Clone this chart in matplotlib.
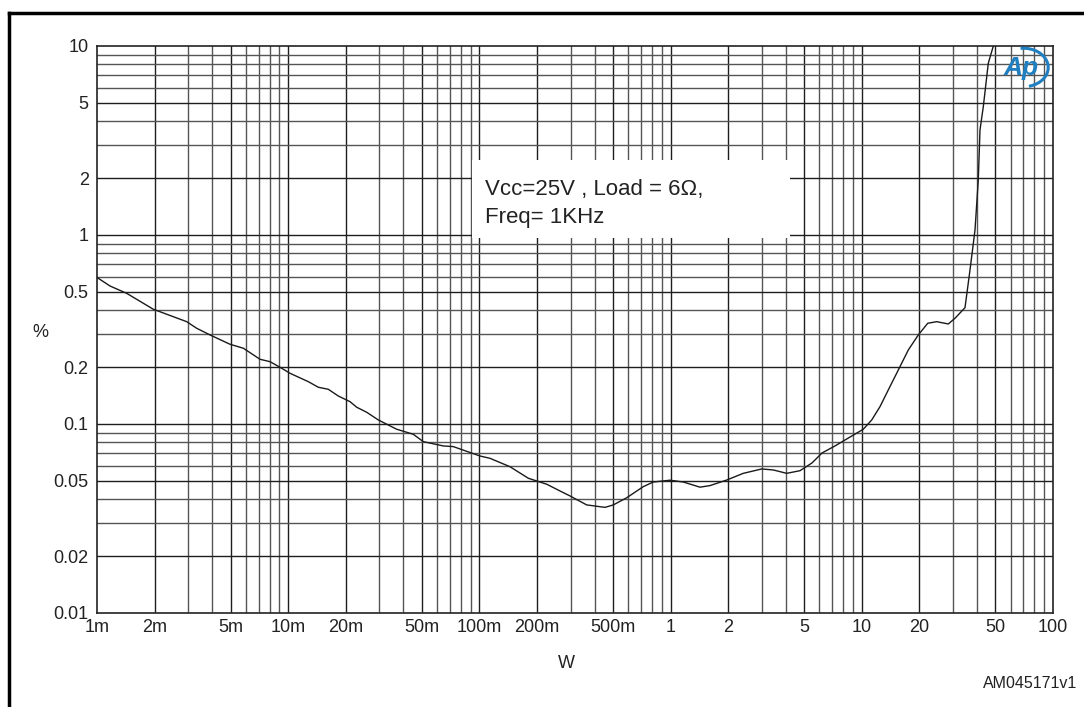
import matplotlib
matplotlib.use("Agg")
import matplotlib.pyplot as plt
from matplotlib.patches import Rectangle, Arc
from matplotlib.lines import Line2D
import numpy as np

plt.rcParams["font.family"] = ["Liberation Sans", "DejaVu Sans"]

# ─── Data ─────────────────────────────────────────────────────────────────────
power_w = [
    1.0e-3, 1.169e-3, 1.43e-3, 1.97e-3, 2.945e-3, 3.32e-3, 3.90e-3, 4.96e-3,
    5.83e-3, 7.12e-3, 8.03e-3, 9.06e-3, 1.022e-2, 1.274e-2, 1.437e-2, 1.62e-2,
    1.828e-2, 2.105e-2, 2.282e-2, 2.574e-2, 2.96e-2, 3.69e-2, 4.51e-2, 5.09e-2,
    6.48e-2, 7.30e-2, 0.1007, 0.1136, 0.1445, 0.1803, 0.2249, 0.2640, 0.2978,
    0.364, 0.4539, 0.5016, 0.5894, 0.7197, 0.8120, 0.9929, 1.165, 1.425, 1.607,
    1.965, 2.400, 2.996, 3.444, 4.048, 4.752, 5.49, 6.19, 7.24, 8.68, 10.18,
    11.27, 12.45, 13.76, 15.52, 17.51, 19.75, 22.12, 24.65, 28.34, 30.72,
    34.65, 36.81, 39.09, 40.67, 41.51, 43.2, 45.87, 48.75,
]
thd_pct = [
    0.596, 0.537, 0.491, 0.4045, 0.3477, 0.3209, 0.2958, 0.2641,
    0.2515, 0.2199, 0.2136, 0.1995, 0.1854, 0.1674, 0.1564, 0.1526,
    0.1406, 0.1312, 0.1226, 0.1153, 0.1050, 0.0938, 0.0882, 0.0806,
    0.0765, 0.0759, 0.0677, 0.0658, 0.0594, 0.0516, 0.0480, 0.0442, 0.0416,
    0.0373, 0.0362, 0.0373, 0.0407, 0.0466, 0.0493, 0.0504, 0.0493, 0.0463, 0.0472,
    0.0505, 0.0548, 0.0578, 0.0571, 0.0548, 0.0566, 0.0622, 0.0702, 0.0765, 0.0853, 0.0938,
    0.1050, 0.1235, 0.1514, 0.1930, 0.2463, 0.2958, 0.3410, 0.3477, 0.3381, 0.3624,
    0.4124, 0.653, 1.063, 1.954, 3.594, 4.773, 8.10, 10.0,
]

x_ticks = [1e-3, 2e-3, 5e-3, 1e-2, 2e-2, 5e-2, 0.1, 0.2, 0.5, 1, 2, 5, 10, 20, 50, 100]
x_labels = ["1m", "2m", "5m", "10m", "20m", "50m", "100m", "200m", "500m",
            "1", "2", "5", "10", "20", "50", "100"]
y_ticks = [0.01, 0.02, 0.05, 0.1, 0.2, 0.5, 1, 2, 5, 10]
y_labels = ["0.01", "0.02", "0.05", "0.1", "0.2", "0.5", "1", "2", "5", "10"]

# ─── Figure ───────────────────────────────────────────────────────────────────
fig = plt.figure(figsize=(10.84, 7.07), dpi=100)
ax = fig.add_axes([0.0895, 0.1330, 0.8819, 0.8020])
ax.set_xscale("log")
ax.set_yscale("log")
ax.set_xlim(1e-3, 100)
ax.set_ylim(0.01, 10)

# grid: every 1..9 per decade
for dec in range(-3, 2):
    for m in range(1, 10):
        v = m * 10.0 ** dec
        if v <= 1e-3 or v >= 100:
            continue
        ax.axvline(v, color="#1e1e1e" if m in (1, 2, 5) else "#555555", lw=1.0, zorder=1)
for dec in range(-2, 1):
    for m in range(1, 10):
        v = m * 10.0 ** dec
        if v <= 0.01 or v >= 10:
            continue
        ax.axhline(v, color="#1e1e1e" if m in (1, 2, 5) else "#555555", lw=1.0, zorder=1)

for s in ax.spines.values():
    s.set_color("#222222")
    s.set_linewidth(1.2)

ax.set_xticks(x_ticks)
ax.set_xticklabels(x_labels)
ax.set_yticks(y_ticks)
ax.set_yticklabels(y_labels)
ax.minorticks_off()
ax.tick_params(length=0, labelsize=13, colors="#222222")
ax.tick_params(axis="x", pad=4)
ax.tick_params(axis="y", pad=6)

ax.plot(power_w, thd_pct, color="#1a1a1a", lw=1.0, zorder=4)

# annotation box
ax.add_patch(Rectangle((0.392, 0.661), 0.333, 0.138, transform=ax.transAxes,
                       facecolor="white", edgecolor="none", zorder=3))
ax.text(0.406, 0.722, "Vcc=25V , Load = 6\u03a9,\nFreq= 1KHz", transform=ax.transAxes,
        ha="left", va="center", fontsize=16, color="#222222", linespacing=1.4, zorder=5)

# Ap logo
ax.text(0.967, 0.962, "Ap", transform=ax.transAxes, ha="center", va="center",
        fontsize=19, fontstyle="italic", fontweight="bold", color="#1f7fc0", zorder=5)
ax.add_patch(Arc((0.969, 0.962), 0.052, 0.068, theta1=-80, theta2=95,
                 transform=ax.transAxes, color="#1f7fc0", lw=2.2, zorder=5))

fig.text(40 / 1084, 1 - 333 / 707, "%", ha="center", va="center", fontsize=13, color="#222222")
fig.text(566 / 1084, 1 - 664 / 707, "W", ha="center", va="center", fontsize=13, color="#222222")
fig.text(1077 / 1084, 1 - 684 / 707, "AM045171v1", ha="right", va="center",
         fontsize=11.5, color="#222222")

# outer frame (left and top edges only visible)
fig.add_artist(Line2D([8.5 / 1084, 8.5 / 1084], [0, 1 - 13 / 707],
                      transform=fig.transFigure, color="black", lw=2.5))
fig.add_artist(Line2D([8.5 / 1084, 1], [1 - 13 / 707, 1 - 13 / 707],
                      transform=fig.transFigure, color="black", lw=2.5))

fig.savefig("out.png", dpi=100)
plt.close("all")
